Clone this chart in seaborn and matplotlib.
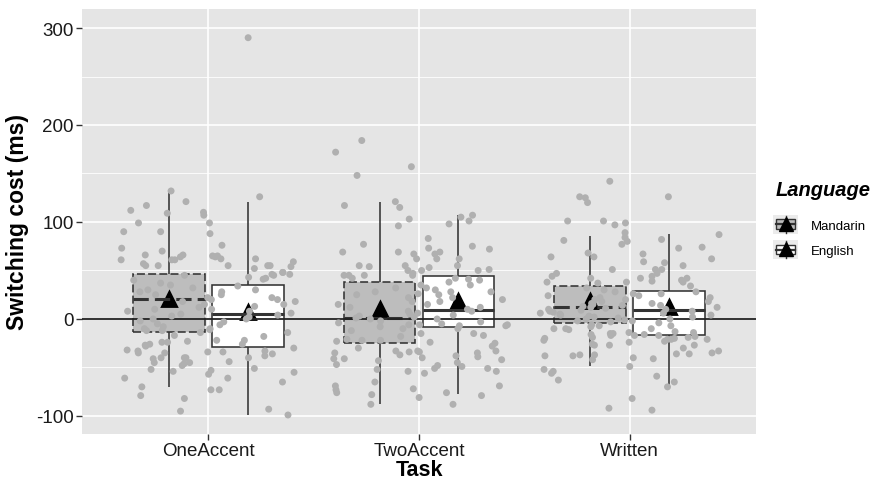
import numpy as np
import pandas as pd
import matplotlib
matplotlib.use("Agg")
import matplotlib.pyplot as plt
import seaborn as sns
from matplotlib.patches import Rectangle, Patch
from matplotlib.lines import Line2D

# ---------------- data ----------------
tasks = ["OneAccent", "TwoAccent", "Written"]
languages = ["Mandarin", "English"]

# five-number summaries per box: [lower whisker, Q1, median, Q3, upper whisker]
box_one_mandarin = [-70, -13, 21, 46, 132]
box_one_english = [-99, -29, 5, 35, 121]
box_two_mandarin = [-88, -25, 1, 38, 121]
box_two_english = [-77, -8, 9, 44, 107]
box_written_mandarin = [-48, -4, 12, 34, 86]
box_written_english = [-69, -17, 9, 29, 88]

# means (triangles)
mean_mandarin = [21, 10, 19]
mean_english = [7, 19, 12]

# individual participants (jittered points)
pts_one_mandarin = [132, 121, 117, 109, 110, 107, 112, 99, 90, 90, 73, 70, 64, 66, 66, 61, 61, 61,
                    57, 55, 55, 45, 37, 40, 35, 32, 30, 28, 25, 22, 20, 18, 15, 12, 10, 8, 5, 3,
                    0, -2, -5, -8, -10, -12, -12, -14, -17, -28, -27, -24, -35, -33, -24, -32,
                    -35, -41, -40, -45, -40, -46, -45, -48, -52, -54, -26, -40, -61, -70, -73,
                    -79, -82, -95, -23]
pts_one_english = [290, 126, 99, 88, 76, 65, 65, 64, 62, 62, 59, 55, 52, 55, 55, 54, 48, 46, 43,
                   48, 45, 42, 46, 41, 34, 30, 28, 25, 22, 20, 18, 15, 13, 10, 8, 6, 4, 2, 0,
                   -3, -6, -10, -14, -18, -22, -26, -34, -34, -36, -38, -40, -44, -33, -30, -22,
                   -11, -57, -53, -55, -51, -65, -73, -61, -93, -99]
pts_two_mandarin = [184, 172, 157, 148, 115, 117, 121, 103, 96, 77, 69, 69, 55, 54, 45, 45, 47,
                    55, 50, 45, 45, 42, 50, 35, 32, 28, 25, 22, 18, 15, 12, 8, 5, 3, 1, 0, -2,
                    -4, -6, -8, -10, -12, -15, -18, -22, -34, -33, -34, -41, -35, -37, -30, -43,
                    -41, -40, -52, -54, -47, -65, -69, -72, -78, -73, -76, -22, -23, -21, -88]
pts_two_english = [105, 101, 107, 98, 75, 73, 69, 72, 83, 67, 62, 62, 67, 62, 55, 53, 50, 51,
                   41, 40, 28, 26, 42, 38, 35, 32, 30, 28, 25, 22, 20, 18, 15, 12, 10, 8, 6, 4,
                   2, 0, -3, -6, -5, -6, -7, -7, -17, -15, -10, -25, -24, -28, -33, -33, -39,
                   -38, -35, -45, -51, -56, -49, -54, -42, -51, -48, -69, -76, -81, -79, -88]
pts_written_mandarin = [142, 125, 120, 126, 101, 99, 101, 97, 89, 81, 80, 77, 68, 64, 64, 51, 47,
                        42, 44, 38, 37, 32, 30, 28, 26, 24, 22, 20, 18, 16, 15, 14, 13, 12, 11,
                        10, 9, 8, 7, 6, 5, 4, 3, 2, 1, 0, -1, -2, -3, -19, -7, -10, -14, -15,
                        -10, -16, -17, -20, -11, -15, -22, -17, -27, -27, -26, -24, -38, -37,
                        -38, -42, -37, -40, -49, -54, -52, -56, -63, -92, -6, -8]
pts_written_english = [126, 84, 82, 87, 74, 73, 67, 62, 58, 55, 59, 51, 47, 51, 38, 42, 42, 40,
                       38, 34, 44, 39, 28, 26, 24, 22, 20, 18, 16, 14, 12, 10, 8, 6, 4, 2, 0, -2,
                       -4, -7, -10, -13, -16, -21, -20, -19, -18, -14, -23, -21, -21, -17, -27,
                       -33, -35, -36, -41, -30, -36, -65, -59, -70, -82, -94]

# ---------------- tables ----------------
box_sets = {("OneAccent", "Mandarin"): box_one_mandarin, ("OneAccent", "English"): box_one_english,
            ("TwoAccent", "Mandarin"): box_two_mandarin, ("TwoAccent", "English"): box_two_english,
            ("Written", "Mandarin"): box_written_mandarin, ("Written", "English"): box_written_english}
pt_sets = {("OneAccent", "Mandarin"): pts_one_mandarin, ("OneAccent", "English"): pts_one_english,
           ("TwoAccent", "Mandarin"): pts_two_mandarin, ("TwoAccent", "English"): pts_two_english,
           ("Written", "Mandarin"): pts_written_mandarin, ("Written", "English"): pts_written_english}

df_box = pd.DataFrame([(t, l, v) for (t, l), vals in box_sets.items() for v in vals],
                      columns=["Task", "Language", "Cost"])
df_pts = pd.DataFrame([(t, l, v) for (t, l), vals in pt_sets.items() for v in vals],
                      columns=["Task", "Language", "Cost"])
df_mean = pd.DataFrame({"Task": tasks * 2,
                        "Language": ["Mandarin"] * 3 + ["English"] * 3,
                        "Cost": mean_mandarin + mean_english})

# ---------------- style ----------------
plt.rcParams["font.family"] = ["Liberation Sans", "DejaVu Sans"]
plt.rcParams["axes.unicode_minus"] = False

box_fill = {"Mandarin": "#bdbdbd", "English": "#ffffff"}
edge = "#333333"

fig = plt.figure(figsize=(8.75, 4.81), dpi=100)
ax = fig.add_axes([82 / 875, 1 - 435 / 481, (756 - 82) / 875, (435 - 10) / 481])
ax.set_facecolor("#e5e5e5")

common = dict(x="Task", y="Cost", hue="Language", order=tasks, hue_order=languages,
              palette=box_fill, width=0.75, gap=0.09, dodge=True, showcaps=False,
              showfliers=False, linecolor=edge, linewidth=1.15, legend=False, ax=ax)
sns.boxplot(data=df_box[df_box.Language == "Mandarin"],
            boxprops=dict(linestyle=(0, (5, 2))),
            medianprops=dict(linestyle=(0, (5, 2)), linewidth=2.2),
            whiskerprops=dict(linestyle="-"), **common)
sns.boxplot(data=df_box[df_box.Language == "English"],
            medianprops=dict(linewidth=2.2), **common)

ax.axhline(0, color="#222222", lw=1.3, zorder=3)

np.random.seed(3)
sns.stripplot(data=df_pts, x="Task", y="Cost", hue="Language", order=tasks, hue_order=languages,
              palette={"Mandarin": "#b0b0b0", "English": "#b0b0b0"}, dodge=True, jitter=0.45,
              size=5, linewidth=0, legend=False, zorder=4, ax=ax)

sns.pointplot(data=df_mean, x="Task", y="Cost", hue="Language", order=tasks, hue_order=languages,
              palette={"Mandarin": "black", "English": "black"}, markers="^", linestyle="none",
              dodge=0.375, errorbar=None, markersize=10, legend=False, ax=ax)

# axes cosmetics (ggplot grey theme)
ax.set_xlim(-0.6, 2.6)
ax.set_ylim(-118.6, 319.6)
ax.set_yticks([-100, 0, 100, 200, 300])
ax.set_yticks([-50, 50, 150, 250], minor=True)
ax.set_xticks(range(len(tasks)))
ax.set_xticklabels(tasks)
ax.set_axisbelow(True)
ax.grid(which="major", color="white", lw=1.2)
ax.grid(which="minor", axis="y", color="white", lw=0.6)
for s in ax.spines.values():
    s.set_visible(False)
ax.tick_params(which="major", length=4, width=1, color=edge, labelsize=13.5,
               labelcolor="#1a1a1a", pad=2)
ax.tick_params(which="minor", length=0)
ax.set_xlabel("Task", fontsize=15.5, fontweight="bold", labelpad=0)
ax.set_ylabel("Switching cost (ms)", fontsize=16.5, fontweight="bold", labelpad=5)


# ---------------- legend ----------------
class BoxKey:
    def __init__(self, face):
        self.face = face

    def legend_artist(self, legend, orig_handle, fontsize, handlebox):
        x0, y0 = -handlebox.xdescent, -handlebox.ydescent
        w, h = handlebox.width, handlebox.height
        tr = handlebox.get_transform()
        bg = Rectangle((x0, y0), w, h, facecolor="#ebebeb", edgecolor="none", transform=tr)
        cx, cy = x0 + w / 2, y0 + h / 2
        wl = Line2D([cx, cx], [y0 + 0.06 * h, y0 + 0.94 * h], color=edge, lw=1.0, transform=tr)
        bx = Rectangle((x0 + 0.12 * w, y0 + 0.24 * h), 0.76 * w, 0.52 * h, facecolor=self.face,
                       edgecolor=edge, lw=1.0, transform=tr)
        md = Line2D([x0 + 0.12 * w, x0 + 0.88 * w], [cy, cy], color=edge, lw=1.6, transform=tr)
        tri = Line2D([cx], [cy + 0.5], marker="^", markersize=10, color="black", lw=0,
                     transform=tr)
        for a in (bg, wl, bx, md, tri):
            handlebox.add_artist(a)
        return bx


fig.text(776 / 875, 1 - 191 / 481, "Language", fontsize=14.5, fontweight="bold",
         fontstyle="italic", ha="left", va="center")

h_m = Patch(label="Mandarin")
h_e = Patch(label="English")
fig.legend(handles=[h_m, h_e], labels=languages, loc="upper left",
           bbox_to_anchor=(773 / 875, 1 - 216 / 481), frameon=False, fontsize=9.5,
           handler_map={h_m: BoxKey(box_fill["Mandarin"]), h_e: BoxKey(box_fill["English"])},
           handlelength=1.9, handleheight=1.8, labelspacing=0.5, handletextpad=1.0,
           borderpad=0, borderaxespad=0)

fig.savefig("out.png", dpi=100, facecolor="white")
